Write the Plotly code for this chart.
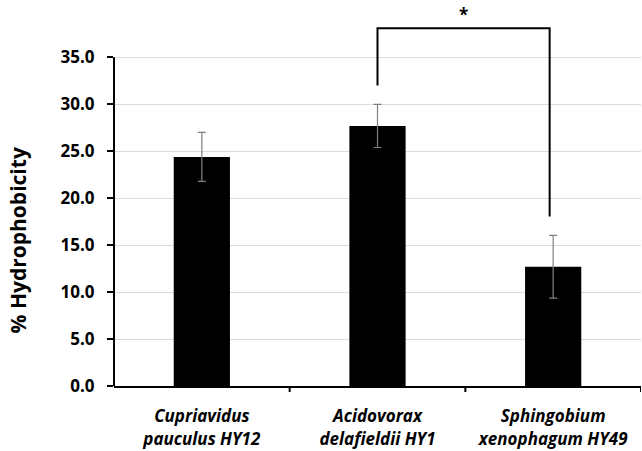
import plotly.graph_objects as go

# Cell-surface hydrophobicity of three bacterial strains (mean ± SD)
strains = [
    "Cupriavidus<br>pauculus HY12",
    "Acidovorax<br>delafieldii HY1",
    "Sphingobium<br>xenophagum HY49",
]
hydrophobicity = [24.4, 27.7, 12.7]
sd = [2.6, 2.3, 3.35]
y_ticks = [0, 5, 10, 15, 20, 25, 30, 35]
y_tick_text = [f"{v:.1f}" for v in y_ticks]

FONT = "Open Sans"
Y_MAX = 41  # headroom for the significance bracket
x_idx = list(range(len(strains)))

fig = go.Figure(
    go.Bar(
        x=x_idx,
        y=hydrophobicity,
        marker=dict(color="black", line=dict(width=0)),
        error_y=dict(type="data", array=sd, color="#808080", thickness=1.2, width=4),
        width=0.32,
    )
)

# significance bracket between HY1 and HY49
left, right = 1, 1.98
left_foot = hydrophobicity[1] + sd[1] + 2.0
right_foot = hydrophobicity[2] + sd[2] + 2.0
top = 38.1
fig.add_shape(
    type="path",
    xref="x", yref="y",
    path=f"M {left} {left_foot} L {left} {top} L {right} {top} L {right} {right_foot}",
    line=dict(color="black", width=2),
)
fig.add_annotation(
    x=(left + right) / 2, y=top, xref="x", yref="y",
    text="<b>*</b>", showarrow=False, yanchor="bottom", yshift=0,
    font=dict(family=FONT, size=17, color="black"),
)

# y axis line only up to the last tick
fig.add_shape(
    type="line", xref="paper", yref="paper",
    x0=0, x1=0, y0=0, y1=y_ticks[-1] / Y_MAX,
    line=dict(color="black", width=2),
)

# y axis title
fig.add_annotation(
    xref="paper", yref="y", x=0, y=15.5,
    xanchor="center", yanchor="middle",
    xshift=-96, textangle=-90, showarrow=False,
    text="<b>% Hydrophobicity</b>",
    font=dict(family=FONT, size=21, color="black"),
)

fig.update_layout(
    width=642, height=451,
    margin=dict(l=114, r=1, t=1, b=65),
    plot_bgcolor="white", paper_bgcolor="white",
    showlegend=False,
    font=dict(family=FONT, color="black"),
)
fig.update_xaxes(
    range=[-0.5, 2.5],
    tickvals=x_idx,
    ticktext=[f"<b><i>{s}</i></b>" for s in strains],
    tickfont=dict(family=FONT, size=17, color="black"),
    ticklabelstandoff=14,
    showline=True, linecolor="black", linewidth=2,
    showgrid=False, zeroline=False,
    ticks="",
)
# category boundary ticks
for b in [0.5, 1.5, 2.5]:
    fig.add_shape(
        type="line", xref="x", yref="paper", x0=b, x1=b, y0=-6, y1=0,
        ysizemode="pixel", yanchor=0, line=dict(color="black", width=2),
    )
fig.update_yaxes(
    range=[0, Y_MAX],
    tickvals=y_ticks, ticktext=[f"<b>{t}</b>" for t in y_tick_text],
    tickfont=dict(family=FONT, size=17, color="black"),
    ticks="outside", ticklen=6, tickwidth=2, tickcolor="black",
    ticklabelstandoff=9,
    showline=False, zeroline=False,
    showgrid=True, gridcolor="#dcdcdc", gridwidth=1.3,
)

fig.write_html("out.html")
